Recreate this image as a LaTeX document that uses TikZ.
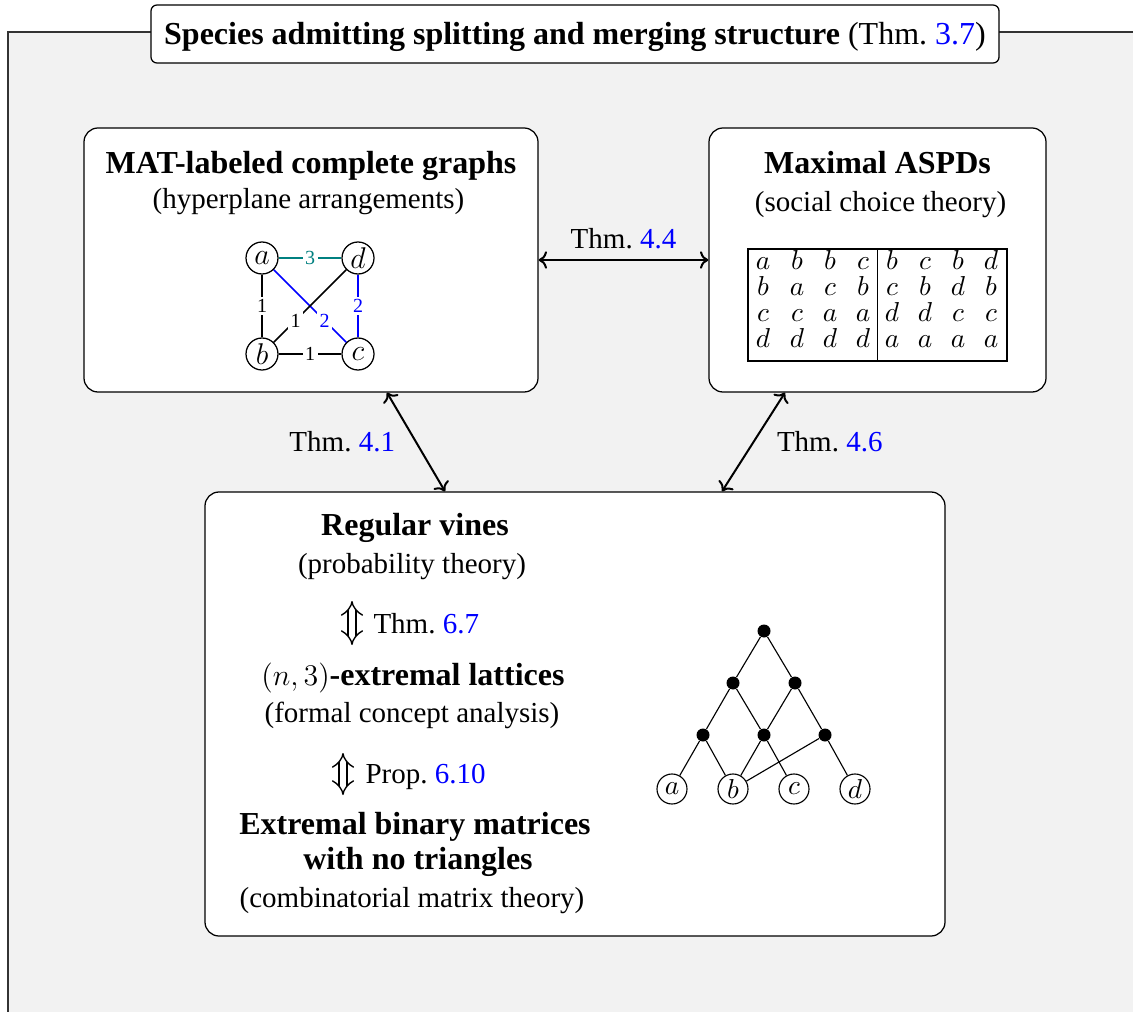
\documentclass[tikz,border=0pt]{standalone}
\usepackage{fontspec}
\setmainfont{Liberation Serif}
\usetikzlibrary{arrows.meta}
\definecolor{bgcol}{HTML}{F2F2F2}
\definecolor{linkblue}{RGB}{0,0,255}
\definecolor{tealc}{RGB}{0,128,128}
\newcommand{\lnk}[1]{\textcolor{linkblue}{#1}}
\begin{document}
\begin{tikzpicture}[x=0.4pt,y=-0.4pt,
  box/.style={draw=black,line width=0.5pt,fill=white,rounded corners=5.6pt,inner sep=0pt},
  txt/.style={inner sep=0pt,anchor=base,font=\fontsize{11.6}{14}\selectfont},
  btxt/.style={inner sep=0pt,anchor=base,font=\fontsize{12.8}{15}\selectfont\bfseries},
  vtx/.style={draw,circle,minimum size=12.8pt,inner sep=0pt,line width=0.5pt,font=\fontsize{12}{14}\selectfont},
  elab/.style={fill=white,inner sep=1pt,font=\fontsize{8}{9}\selectfont},
  gedge/.style={line width=0.65pt},
  dot/.style={circle,fill=black,minimum size=5.2pt,inner sep=0pt},
  leaf/.style={draw,circle,minimum size=12pt,inner sep=0pt,line width=0.45pt,font=\fontsize{11}{13}\selectfont},
  ledge/.style={line width=0.45pt},
  conn/.style={<->,line width=0.8pt},
  clab/.style={inner sep=2pt,font=\fontsize{11.6}{14}\selectfont},
  ent/.style={inner sep=0pt,anchor=base,font=\fontsize{10.5}{12}\selectfont},
  dbl/.style={double,double distance=2.6pt,line width=0.55pt,{Implies}-{Implies}}
]
\useasboundingbox (0,0) rectangle (1133,1012);
% outer frame
\fill[bgcol] (8,32) rectangle (1133,1012);
\draw[line width=0.7pt,black!80] (1133,32) -- (8,32) -- (8,1012);

% title
\node[box,rounded corners=2.4pt,minimum width=339.2pt,minimum height=23.2pt] (title) at (575,34) {};
\node[txt,font=\fontsize{12.8}{15}\selectfont] (titletxt) at (575,45)
  {\textbf{Species admitting splitting and merging structure} (Thm.~\lnk{3.7})};

% boxes
\node[box,minimum width=181.6pt,minimum height=105.6pt] (mat) at (311,260) {};
\node[box,minimum width=134.8pt,minimum height=105.6pt] (aspd) at (877.5,260) {};
\node[box,minimum width=296pt,minimum height=177.6pt] (vine) at (575,714) {};

% box 1 text
\node[btxt] (matT) at (311,174) {MAT-labeled complete graphs};
\node[txt] (matS) at (308.5,209) {(hyperplane arrangements)};

% MAT graph
\node[vtx] (ga) at (262,258) {$a$};
\node[vtx] (gd) at (358,258) {$d$};
\node[vtx] (gb) at (262,354) {$b$};
\node[vtx] (gc) at (358,354) {$c$};
\draw[gedge,linkblue] (ga) -- node[elab,pos=0.7,text=linkblue] {2} (gc);
\draw[gedge] (gd) -- node[elab,pos=0.7] {1} (gb);
\draw[gedge] (ga) -- node[elab] {1} (gb);
\draw[gedge] (gb) -- node[elab] {1} (gc);
\draw[gedge,tealc] (ga) -- node[elab,text=tealc] {3} (gd);
\draw[gedge,linkblue] (gd) -- node[elab,text=linkblue] {2} (gc);

% box 2 text
\node[btxt] (aspdT) at (877.5,174) {Maximal ASPDs};
\node[txt] (aspdS) at (880.5,212) {(social choice theory)};

% table
\node[draw,line width=0.5pt,minimum width=103.6pt,minimum height=44.8pt,inner sep=0pt] (tbl) at (877.5,305) {};
\draw[line width=0.5pt] (tbl.north) -- (tbl.south);
\foreach \row [count=\r] in {{a,b,b,c,b,c,b,d},{b,a,c,b,c,b,d,b},{c,c,a,a,d,d,c,c},{d,d,d,d,a,a,a,a}} {
  \foreach \l [count=\c] in \row {
    \pgfmathsetmacro{\xx}{{763,797,830,863,892,925,958,991}[\c-1]}
    \pgfmathsetmacro{\yy}{269.5+(\r-1)*26}
    \node[ent] (t\r\c) at (\xx,\yy) {$\l$};
  }
}

% box 3 text
\node[btxt] (rv) at (415,535) {Regular vines};
\node[txt] (pt) at (412,573) {(probability theory)};
\coordinate (u1) at (352,601);
\coordinate (d1) at (352,645);
\draw[dbl] (u1) -- (d1);
\node[txt,anchor=base west] (t67) at (373,633) {Thm.~\lnk{6.7}};
\node[txt,font=\fontsize{12.8}{15}\selectfont] (nl) at (413,685) {$(n,3)$\textbf{-extremal lattices}};
\node[txt] (fca) at (412,722) {(formal concept analysis)};
\coordinate (u2) at (343,753);
\coordinate (d2) at (343,795);
\draw[dbl] (u2) -- (d2);
\node[txt,anchor=base west] (p610) at (365,783) {Prop.~\lnk{6.10}};
\node[btxt] (ebm) at (415,834) {Extremal binary matrices};
\node[btxt] (wnt) at (418,869) {with no triangles};
\node[txt] (cmt) at (412,907) {(combinatorial matrix theory)};

% lattice
\node[dot] (l0) at (764,631) {};
\node[dot] (l1) at (733,683) {};
\node[dot] (l2) at (795,683) {};
\node[dot] (l3) at (703,735) {};
\node[dot] (l4) at (764,735) {};
\node[dot] (l5) at (825,735) {};
\node[leaf] (la) at (672,789) {$a$};
\node[leaf] (lb) at (733,789) {$b$};
\node[leaf] (lc) at (794,789) {$c$};
\node[leaf] (ld) at (855,789) {$d$};
\draw[ledge] (l0) -- (l1);
\draw[ledge] (l0) -- (l2);
\draw[ledge] (l1) -- (l3);
\draw[ledge] (l1) -- (l4);
\draw[ledge] (l2) -- (l4);
\draw[ledge] (l2) -- (l5);
\draw[ledge] (l3) -- (la);
\draw[ledge] (l3) -- (lb);
\draw[ledge] (l4) -- (lb);
\draw[ledge] (l4) -- (lc);
\draw[ledge] (l5) -- (lb);
\draw[ledge] (l5) -- (ld);

% connectors
\draw[conn] (mat.east) -- node[clab,above=2pt] {Thm.~\lnk{4.4}} (aspd.west);
\draw[conn] ([xshift=30.4pt]mat.south) -- node[clab,left=6pt] {Thm.~\lnk{4.1}} ([xshift=-52pt]vine.north);
\draw[conn] ([xshift=-37pt]aspd.south) -- node[clab,right=7pt] {Thm.~\lnk{4.6}} ([xshift=58.8pt]vine.north);
\end{tikzpicture}
\end{document}
